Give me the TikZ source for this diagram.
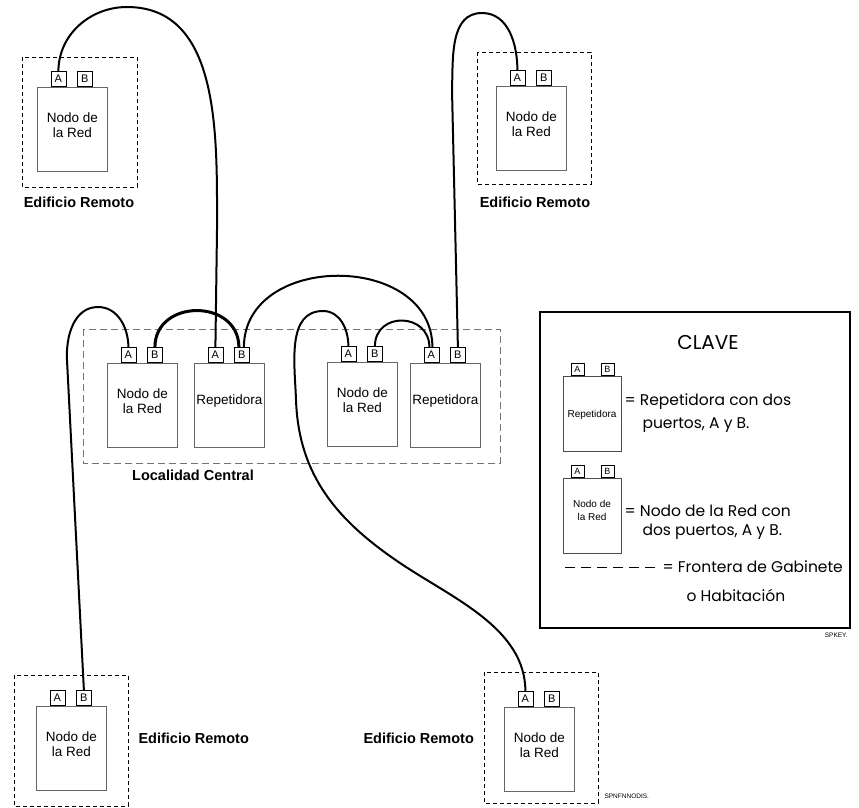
\documentclass[tikz,border=0pt]{standalone}
\usepackage{fontspec}
\setmainfont{Liberation Sans}
\newfontfamily\keyfont{Poppins}
\newcommand\netunit[4]{%
  \node[unitbox] (#1) at (#2,-#3) {};
  \node[port, xshift=-14pt] (#1A) at (#1.north) {A};
  \node[port, xshift=12.5pt] (#1B) at (#1.north) {B};
  \node[boxtext, yshift=-38pt] (#1t) at (#1.north) {#4};
}
\begin{document}
\begin{tikzpicture}[x=1pt,y=1pt,
  unitbox/.style={draw=black!60, line width=0.8pt, minimum width=70pt, minimum height=84pt, inner sep=0pt, anchor=north west},
  port/.style={draw, line width=0.6pt, minimum width=15pt, minimum height=15pt, inner sep=0pt, anchor=south, font=\fontsize{11}{11}\selectfont},
  boxtext/.style={align=center, font=\fontsize{13.5}{15.5}\selectfont},
  bound/.style={draw, line width=0.8pt, dash pattern=on 4pt off 3pt},
  cbound/.style={draw=black!55, line width=0.9pt, dash pattern=on 7pt off 4pt},
  cable/.style={line width=2pt},
  heavy/.style={line width=3pt},
  bldlbl/.style={font=\bfseries\fontsize{14.5}{16}\selectfont},
  keytxt/.style={anchor=west, font=\keyfont\fontsize{15.5}{17}\selectfont},
  kport/.style={draw, line width=0.6pt, minimum width=13pt, minimum height=12pt, inner sep=0pt, anchor=south, font=\fontsize{9}{9}\selectfont},
  kbox/.style={draw=black!70, line width=0.8pt, minimum width=58pt, minimum height=75pt, inner sep=0pt, anchor=north west},
  ktiny/.style={font=\fontsize{6.5}{7}\selectfont}
]
\useasboundingbox (0,0) rectangle (859,-807);

% building / room boundaries
\draw[bound] (22,-57) rectangle (137,-187);
\draw[bound] (477,-52) rectangle (591,-184);
\draw[cbound] (83,-329) rectangle (500,-463);
\draw[bound] (14,-675) rectangle (128,-806);
\draw[bound] (484,-672) rectangle (598,-803);

% units
\netunit{tl}{37}{87}{Nodo de\\la Red}
\netunit{tr}{496}{86}{Nodo de\\la Red}
\netunit{ca}{107}{363}{Nodo de\\la Red}
\netunit{ra}{194}{363}{Repetidora}
\netunit{cb}{327}{362}{Nodo de\\la Red}
\netunit{rb}{410}{363}{Repetidora}
\netunit{bl}{36}{706}{Nodo de\\la Red}
\netunit{br}{504}{707}{Nodo de\\la Red}

% labels
\node[bldlbl] (lab1) at (79,-202) {Edificio Remoto};
\node[bldlbl] (lab2) at (535,-202) {Edificio Remoto};
\node[bldlbl, anchor=west] (lab3) at (135,-738) {Edificio Remoto};
\node[bldlbl, anchor=west] (lab4) at (360,-738) {Edificio Remoto};
\node[bldlbl] (lab5) at (193,-475) {Localidad Central};
\node[ktiny, anchor=west] (code2) at (601,-796) {SPNFNNODIS.};

% cables
\draw[cable] (tlA.north) to[out=90,in=180] (127,-7) to[out=0,in=90] (217,-230) -- (raA.north);
\draw[cable] (trA.north) to[out=90,in=0] (482,-13) to[out=180,in=88] (452,-90) -- (rbB.north);
\draw[cable] (caA.north) to[out=90,in=0] (98,-307) to[out=180,in=93] (67,-360) -- (blB.north);
\draw[heavy] (caB.north) to[out=90,in=90,looseness=1.5] ([xshift=-3pt]raB.north);
\draw[cable] ([xshift=2pt]raB.north) to[out=90,in=90,looseness=1.3] ([xshift=1pt]rbA.north);
\draw[cable] (cbA.north) to[out=90,in=0] (323,-311) to[out=180,in=92] (296,-400)
   to[out=-88,in=146] (400,-563) to[out=-34,in=90,looseness=0.9] (brA.north);
\draw[cable] (cbB.north) to[out=90,in=90,looseness=1.65] ([xshift=-2pt]rbA.north);

% key
\draw[line width=2.5pt] (540,-312) rectangle (850,-628);
\node[font=\keyfont\fontsize{20}{22}\selectfont] (clave) at (708,-342) {CLAVE};
\node[kbox] (kr) at (563,-376) {};
\node[kport, xshift=-15pt] (krA) at (kr.north) {A};
\node[kport, xshift=15pt] (krB) at (kr.north) {B};
\node[font=\fontsize{10}{11}\selectfont] (krt) at (592,-415) {Repetidora};
\node[keytxt] (kt1) at (621,-402) {= Repetidora con dos};
\node[keytxt] (kt2) at (639,-425) {puertos, A y B.};
\node[kbox] (kn) at (563,-478) {};
\node[kport, xshift=-15pt] (knA) at (kn.north) {A};
\node[kport, xshift=15pt] (knB) at (kn.north) {B};
\node[align=center, font=\fontsize{10}{13}\selectfont] (knt) at (592,-510) {Nodo de\\la Red};
\node[keytxt] (kt3) at (621,-511) {= Nodo de la Red con};
\node[keytxt] (kt4) at (639,-532) {dos puertos, A y B.};
\coordinate (kd1) at (565,-567);
\coordinate (kd2) at (658,-567);
\draw[line width=0.8pt, dash pattern=on 10pt off 6pt] (kd1) -- (kd2);
\node[keytxt] (kt5) at (659,-567) {= Frontera de Gabinete};
\node[keytxt] (kt6) at (683,-595) {o Habitación};
\node[ktiny, anchor=east] (code1) at (851,-635) {SPKEY.};
\end{tikzpicture}
\end{document}
